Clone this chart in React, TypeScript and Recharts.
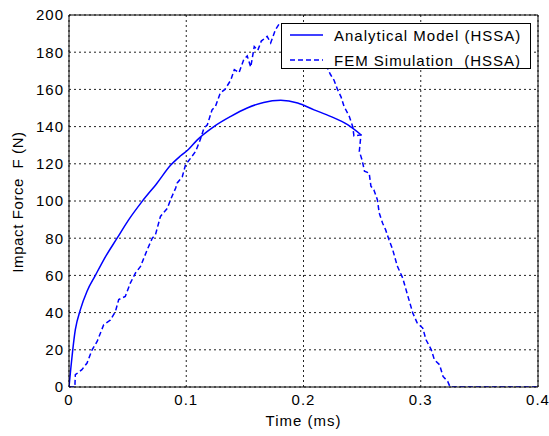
import React from "react";
import { LineChart, Line, XAxis, YAxis, CartesianGrid, ReferenceLine, Legend } from "recharts";

const xTicks = [0, 0.1, 0.2, 0.3, 0.4];
const yTicks = [0, 20, 40, 60, 80, 100, 120, 140, 160, 180, 200];

const analyticalTime = [0, 0.0054, 0.0097, 0.0154, 0.0225, 0.0296, 0.041, 0.051, 0.0624, 0.0752, 0.0866, 0.0952, 0.102, 0.109, 0.1236, 0.138, 0.152, 0.166, 0.1806, 0.195, 0.209, 0.223, 0.2376, 0.249];
const analyticalForce = [0, 30.8, 41.6, 51.5, 60, 68.4, 80, 90, 99.8, 109.7, 119.2, 124.3, 127.8, 132.6, 140, 145.5, 150, 153, 154.1, 152.7, 149, 145.5, 141, 135.6];

const femTime = [0, 0.005, 0.0054, 0.011, 0.0154, 0.0197, 0.024, 0.0296, 0.0353, 0.0396, 0.0424, 0.048, 0.0524, 0.0567, 0.061, 0.0667, 0.071, 0.0738, 0.078, 0.0838, 0.0866, 0.091, 0.0923, 0.0966, 0.0994, 0.1037, 0.108, 0.112, 0.115, 0.118, 0.122, 0.125, 0.129, 0.133, 0.138, 0.141, 0.145, 0.149, 0.152, 0.155, 0.158, 0.161, 0.164, 0.169, 0.172, 0.176, 0.179, 0.19, 0.205, 0.215, 0.22, 0.223, 0.226, 0.229, 0.232, 0.2345, 0.239, 0.242, 0.243, 0.249, 0.2476, 0.25, 0.252, 0.256, 0.2575, 0.26, 0.263, 0.2646, 0.2675, 0.27, 0.273, 0.276, 0.28, 0.2846, 0.2885, 0.2932, 0.297, 0.3017, 0.3045, 0.309, 0.3116, 0.316, 0.319, 0.323, 0.325, 0.4];
const femForce = [0, 0, 6.6, 9.3, 12.9, 20, 24.5, 33.5, 36, 40.6, 47, 48.7, 56, 61.3, 64.8, 73.8, 80, 82, 91.7, 96, 100.7, 107, 109.7, 113, 119.5, 123, 126.7, 133, 139, 141, 149, 151, 158, 160, 165, 170.6, 169, 176, 178, 172, 183, 181, 186, 188.5, 185, 192, 195, 191, 189, 180, 172, 168, 165, 160, 156, 151, 145.5, 140, 135, 135.6, 126.7, 122, 116, 115, 108, 106, 100.7, 93.5, 88, 84.6, 79, 74, 65, 58.6, 50, 39.8, 34.4, 31.7, 25.4, 20, 14.7, 12, 5.7, 3, 0, 0];

const analyticalData = analyticalTime.map((t, i) => ({ t, f: analyticalForce[i] }));
const femData = femTime.map((t, i) => ({ t, f: femForce[i] }));

const FONT = "'Liberation Sans', Arial, sans-serif";
const BLUE = "#0000ff";

const LegendBox = () => (
  <div
    style={{
      boxSizing: "border-box",
      width: 250,
      height: 46,
      border: "1px solid #000",
      background: "#fff",
      fontFamily: FONT,
      fontSize: 15,
      letterSpacing: 1,
      color: "#000",
      position: "relative",
    }}
  >
    {[
      { name: "Analytical Model (HSSA)", dash: undefined as string | undefined },
      { name: "FEM Simulation  (HSSA)", dash: "5 3" },
    ].map((r, i) => (
      <div key={i} style={{ position: "absolute", left: 0, top: 1 + i * 25, height: 20, display: "flex", alignItems: "center", whiteSpace: "pre" }}>
        <svg width={52} height={6} style={{ display: "block" }}>
          <line x1={8} y1={3} x2={41} y2={3} stroke={BLUE} strokeWidth={1.5} strokeDasharray={r.dash} />
        </svg>
        <span>{r.name}</span>
      </div>
    ))}
  </div>
);

export default function App() {
  return (
    <div style={{ position: "absolute", left: 0, top: 0, width: 549, height: 436, background: "#fff" }}>
      <LineChart width={549} height={436} margin={{ top: 15, right: 11, bottom: 0, left: 0 }} style={{ fontFamily: FONT }}>
        <CartesianGrid stroke="#222" strokeDasharray="2 3" horizontalValues={yTicks} verticalValues={xTicks} />
        <XAxis
          dataKey="t"
          type="number"
          domain={[0, 0.4]}
          ticks={xTicks}
          allowDataOverflow
          height={49}
          stroke="#000"
          tickLine={false}
          tickSize={5}
          tickMargin={2}
          tick={{ fill: "#000", fontSize: 15, letterSpacing: 1, fontFamily: FONT }}
          label={{
            content: ({ viewBox }: any) => (
              <text x={viewBox.x + viewBox.width / 2} y={426} textAnchor="middle" fill="#000" fontSize={15} letterSpacing={1} fontFamily={FONT}>
                Time (ms)
              </text>
            ),
          }}
        />
        <YAxis
          type="number"
          domain={[0, 200]}
          ticks={yTicks}
          allowDataOverflow
          width={69}
          stroke="#000"
          tickLine={false}
          tickSize={3}
          tickMargin={2}
          tick={{ fill: "#000", fontSize: 15, letterSpacing: 1, fontFamily: FONT }}
          label={{
            content: ({ viewBox }: any) => {
              const cy = viewBox.y + viewBox.height / 2 + 1;
              return (
                <text x={17} y={cy} transform={`rotate(-90 17 ${cy})`} textAnchor="middle" dominantBaseline="central" fill="#000" fontSize={15} letterSpacing={0.6} fontFamily={FONT} style={{ whiteSpace: "pre" }}>
                  {"Impact Force  F (N)"}
                </text>
              );
            },
          }}
        />
        <ReferenceLine y={200} stroke="#000" strokeWidth={1} />
        <ReferenceLine x={0.4} stroke="#000" strokeWidth={1} />
        <Line data={femData} dataKey="f" type="linear" stroke={BLUE} strokeWidth={1.5} strokeDasharray="5 3" dot={false} isAnimationActive={false} name="FEM Simulation  (HSSA)" />
        <Line data={analyticalData} dataKey="f" type="monotone" stroke={BLUE} strokeWidth={1.5} dot={false} isAnimationActive={false} name="Analytical Model (HSSA)" />
        <Legend
          layout="vertical"
          align="center"
          verticalAlign="middle"
          content={() => <LegendBox />}
          wrapperStyle={{ left: 281, top: 23, width: 250, height: 46 }}
        />
      </LineChart>
    </div>
  );
}
